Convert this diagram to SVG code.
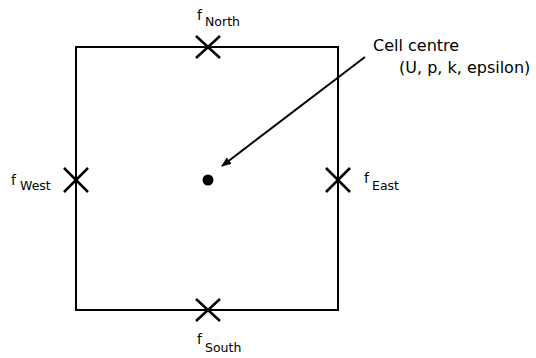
<svg xmlns="http://www.w3.org/2000/svg" width="536" height="358" viewBox="0 0 536 358">
<defs>
<style>
.ln{stroke:#000;stroke-width:2;fill:none}
.x{stroke:#000;stroke-width:2.5;fill:none}
.t{font-family:"DejaVu Sans",sans-serif;font-size:14px;fill:#000}
.c{font-family:"DejaVu Sans",sans-serif;font-size:16px;fill:#000}
.s{font-family:"DejaVu Sans",sans-serif;font-size:12.5px;fill:#000}
</style>
<marker id="ah" markerWidth="10" markerHeight="8" refX="9" refY="4" orient="auto" markerUnits="userSpaceOnUse">
<path d="M0,0 L10,4 L0,8 Z" fill="#000"/>
</marker>
</defs>
<rect width="536" height="358" fill="#fff"/>
<g id="cell"><rect x="76" y="47" width="262" height="263" class="ln"/></g>
<g id="north"><path class="x" d="M196,36 L220,58 M220,36 L196,58"/><text class="t" x="197" y="20">f</text><text class="s" x="205" y="26">North</text></g>
<g id="west"><path class="x" d="M64,168 L88,192 M88,168 L64,192"/><text class="t" x="11" y="185">f</text><text class="s" x="20" y="190">West</text></g>
<g id="east"><path class="x" d="M326,168 L350,192 M350,168 L326,192"/><text class="t" x="364" y="183">f</text><text class="s" x="372" y="190">East</text></g>
<g id="south"><path class="x" d="M196,299 L220,321 M220,299 L196,321"/><text class="t" x="197" y="344">f</text><text class="s" x="205" y="352">South</text></g>
<g id="centre"><circle cx="208" cy="180" r="5.5" fill="#000"/></g>
<g id="label"><text class="c" x="373" y="51">Cell centre</text><text class="c" x="399" y="73">(U, p, k, epsilon)</text></g>
<g id="connectors"><line x1="365" y1="57" x2="222" y2="166" stroke="#000" stroke-width="2" marker-end="url(#ah)"/></g>
</svg>
